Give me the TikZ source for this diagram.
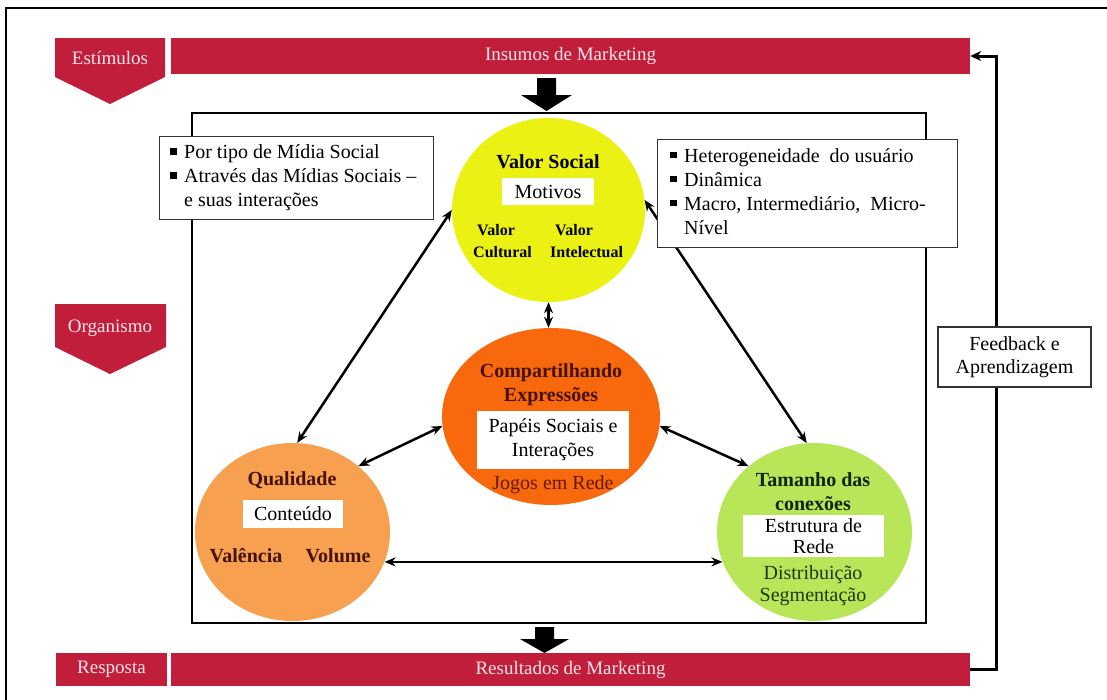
\documentclass[tikz,border=0pt]{standalone}
\usepackage{fontspec}
\setmainfont{Liberation Serif}
\usetikzlibrary{shapes.geometric,arrows.meta}
\definecolor{barred}{RGB}{193,30,60}
\definecolor{bartext}{RGB}{250,228,232}
\definecolor{socyellow}{RGB}{236,241,20}
\definecolor{comporange}{RGB}{248,104,12}
\definecolor{qualorange}{RGB}{246,160,80}
\definecolor{netgreen}{RGB}{184,230,88}
\definecolor{darkbrown}{RGB}{70,18,0}
\definecolor{rede}{RGB}{100,24,0}
\definecolor{darkgreen}{RGB}{12,40,12}
\definecolor{midgreen}{RGB}{26,58,16}
\newcommand{\bulsq}{\raisebox{4pt}{\rule{6.5pt}{6.5pt}}}
\begin{document}
\begin{tikzpicture}[x=1pt,y=-1pt,
  bar/.style={fill=barred,text=bartext,inner sep=0,font=\fontsize{19}{22}\selectfont},
  lbl/.style={text=bartext,inner sep=0,font=\fontsize{19}{22}\selectfont},
  disc/.style={ellipse,inner sep=0},
  ttl/.style={inner sep=0,align=center,font=\fontsize{20}{24}\selectfont\bfseries},
  sub/.style={inner sep=0,align=left,font=\fontsize{16}{22}\selectfont\bfseries},
  reg/.style={inner sep=0,align=center,font=\fontsize{20}{24}\selectfont},
  wbox/.style={fill=white,inner sep=0,align=center,font=\fontsize{20}{24}\selectfont},
  infobox/.style={draw=black!80,line width=1.3,fill=white,inner sep=0},
  dbl/.style={{Stealth[length=11pt,width=9pt]}-{Stealth[length=11pt,width=9pt]},line width=2.5},
  frame/.style={line width=2.6}]
\useasboundingbox (0,0) rectangle (1107,699);

% outer frame (top and left edges)
\draw[frame] (6,700) -- (6,8) -- (1108,8);

% stage banners
\fill[barred] (55,38) -- (165,38) -- (165,77) -- (110,104) -- (55,77) -- cycle;
\node[lbl] (estim) at (110,58) {Estímulos};
\fill[barred] (55,304) -- (166,304) -- (166,347) -- (110,374) -- (55,347) -- cycle;
\node[lbl] (organ) at (110,328) {Organismo};
\node[bar,minimum width=111,minimum height=33] (resp) at (111.5,669.5) {Resposta};

\node[bar,minimum width=799,minimum height=36] (ins) at (570.5,56) {Insumos de Marketing};
\node[bar,minimum width=799,minimum height=33] (res) at (570.5,669.5) {Resultados de Marketing};

% block arrows
\fill (537,78) -- (556,78) -- (556,95) -- (572,95) -- (546.5,111) -- (521,95) -- (537,95) -- cycle;
\fill (535,627) -- (554,627) -- (554,639) -- (569,639) -- (544.5,653) -- (520,639) -- (535,639) -- cycle;

% inner frame
\draw[frame] (192,113) rectangle (926,623);

% feedback loop
\draw[line width=3,-{Stealth[length=11pt,width=10pt]}] (res.east) -- (996,669.5) |- (ins.east);
\node[infobox,minimum width=153,minimum height=60,align=center,
      font=\fontsize{20}{23}\selectfont] (fb) at (1014.5,357) {Feedback e\\Aprendizagem};

% discs
\node[disc,fill=socyellow,minimum width=193,minimum height=184] (soc) at (548.5,210) {};
\node[disc,fill=comporange,minimum width=218,minimum height=177] (comp) at (551,416.5) {};
\node[disc,fill=qualorange,minimum width=195,minimum height=178] (qual) at (292.5,532) {};
\node[disc,fill=netgreen,minimum width=195,minimum height=178] (net) at (814.5,532) {};

% connectors
\draw[dbl] (soc.180) -- (qual.87);
\draw[dbl] (soc.6) -- (net.95);
\draw[dbl] (soc.south) -- (soc.south |- comp.north);
\draw[dbl] (comp.185) -- (qual.45);
\draw[dbl] (comp.-5) -- (net.135);
\draw[dbl] (qual.-18) -- (net.198);

% social value
\node[ttl] (socT) at (548,162) {Valor Social};
\node[wbox,minimum width=92,minimum height=27] (mot) at (548,191.5) {Motivos};
\node[sub,anchor=west] (cult) at (473,241) {\hspace*{4pt}Valor\\Cultural};
\node[sub,anchor=west] (intel) at (550,241) {\hspace*{5pt}Valor\\Intelectual};

% sharing expressions
\node[ttl,text=darkbrown] (compT) at (551,385) {Compartilhando\\Expressões};
\node[wbox,minimum width=152,minimum height=58] (pap) at (553,440) {Papéis Sociais e\\Interações};
\node[reg,text=rede] (jogos) at (553,485) {Jogos em Rede};

% quality
\node[ttl,text=darkbrown] (qualT) at (292,480) {Qualidade};
\node[wbox,minimum width=100,minimum height=28] (cont) at (293,514) {Conteúdo};
\node[ttl,text=darkbrown] (val) at (246,556) {Valência};
\node[ttl,text=darkbrown] (vol) at (338,556) {Volume};

% connection size
\node[ttl,text=darkgreen] (netT) at (813,492) {Tamanho das\\conexões};
\node[wbox,minimum width=141,minimum height=42,
      font=\fontsize{20}{21}\selectfont] (estr) at (813.5,536) {Estrutura de\\Rede};
\node[reg,text=midgreen,font=\fontsize{20}{22}\selectfont] (dist) at (813,586) {Distribuição\\Segmentação};

% bulleted notes
\node[infobox,minimum width=274,minimum height=83,anchor=north west] (lbox) at (159,136) {};
\node[anchor=west,inner sep=0,font=\fontsize{20}{24}\selectfont] (ltext) at ([xshift=11pt]lbox.west)
  {\begin{tabular}{@{}l@{\hspace{7.5pt}}l@{}}
   \bulsq & Por tipo de Mídia Social\\
   \bulsq & Através das Mídias Sociais –\\
          & e suas interações
   \end{tabular}};
\node[infobox,minimum width=300,minimum height=108,anchor=north west] (rbox) at (657,139) {};
\node[anchor=west,inner sep=0,font=\fontsize{20}{24}\selectfont] (rtext) at ([xshift=13pt]rbox.west)
  {\begin{tabular}{@{}l@{\hspace{7.5pt}}l@{}}
   \bulsq & Heterogeneidade\ \ do usuário\\
   \bulsq & Dinâmica\\
   \bulsq & Macro, Intermediário,\ \ Micro-\\
          & Nível
   \end{tabular}};
\end{tikzpicture}
\end{document}
